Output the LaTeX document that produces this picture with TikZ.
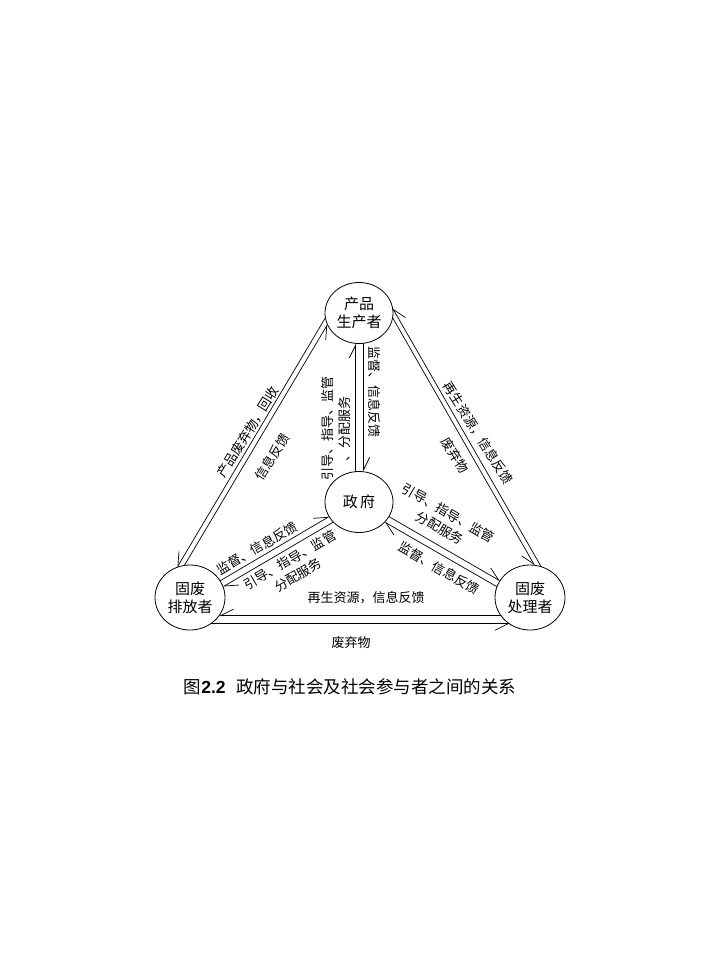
\documentclass[tikz,border=0pt]{standalone}
\usepackage{fontspec}
\setmainfont{Noto Sans CJK SC}
\newfontfamily\latinfont{Liberation Sans}
\usetikzlibrary{arrows.meta,shapes.geometric}
\tikzset{
	party/.style={draw, ellipse, line width=0.8pt, inner sep=0pt, outer sep=0pt, align=center,
		font=\fontsize{15}{18}\selectfont, minimum width=68pt, minimum height=61pt},
	hpl/.style={line width=0.7pt, -{Straight Barb[harpoon, length=13pt, width=13pt]}},
	hpr/.style={line width=0.7pt, -{Straight Barb[harpoon, swap, length=13pt, width=13pt]}},
	lab/.style={inner sep=0pt, align=center, font=\fontsize{13}{17}\selectfont}
}
\begin{document}
\begin{tikzpicture}[x=1pt,y=-1pt]
	\useasboundingbox (0,0) rectangle (720,960);
	
	%parties
	\node[party] (prod) at (359,313) {产品\\生产者};
	\node[party] (gov) at (359,502) {政\,府};
	\node[party, minimum width=70pt, minimum height=65pt] (emit) at (190,597.5) {固废\\排放者};
	\node[party, minimum width=70pt, minimum height=65pt] (proc) at (530,597.5) {固废\\处理者};
	
	%producer -- government
	\draw[hpl] (gov.96) -- (prod.-96);		%up
	\draw[hpl] (prod.-82) -- (gov.82);		%down
	\node[lab, rotate=90] (pgL) at (336.5,428.5) {引导、指导、监管\\、分配服务};
	\node[lab, rotate=-90] (pgR) at (374,392) {监督、信息反馈};
	
	%producer -- emitter
	\draw[hpr] (prod.188) -- (emit.113);	%outer
	\draw[hpr] (emit.100) -- (prod.200);	%inner
	\node[lab, rotate=58] (peO) at (248,432) {产品废弃物，回收};
	\node[lab, rotate=58] (peI) at (272,457) {信息反馈};
	
	%producer -- processor
	\draw[hpr] (proc.70) -- (prod.8);		%outer
	\draw[hpr] (prod.-8) -- (proc.82);		%inner
	\node[lab, rotate=-58] (pdO) at (478,433) {再生资源，信息反馈};
	\node[lab, rotate=-58] (pdI) at (455,455) {废弃物};
	
	%government -- emitter
	\draw[hpl] (emit.29) -- (gov.206);		%upper
	\draw[hpl] (gov.218) -- (emit.18);		%lower
	\node[lab, rotate=30] (geU) at (257,548) {监督、信息反馈};
	\node[lab, rotate=30] (geL) at (294,567.5) {引导、指导、监管\\分配服务};
	
	%government -- processor
	\draw[hpl] (gov.-26) -- (proc.151);		%upper
	\draw[hpl] (proc.162) -- (gov.-38);		%lower
	\node[lab, rotate=-30] (gdU) at (444,520.5) {引导、指导、监管\\分配服务};
	\node[lab, rotate=-30] (gdL) at (439,568) {监督、信息反馈};
	
	%emitter -- processor
	\draw[hpr] (proc.212) -- (emit.-32);	%upper
	\draw[hpr] (emit.-52) -- (proc.232);	%lower
	\node[lab] (edU) at (366,598) {再生资源，信息反馈};
	\node[lab] (edL) at (351,643) {废弃物};
	
	%caption
	\node[inner sep=0pt] (cap) at (350,687) {\fontsize{17.5}{20}\selectfont 图{\latinfont\bfseries 2.2}\hspace{0.6em}政府与社会及社会参与者之间的关系};
\end{tikzpicture}
\end{document}
